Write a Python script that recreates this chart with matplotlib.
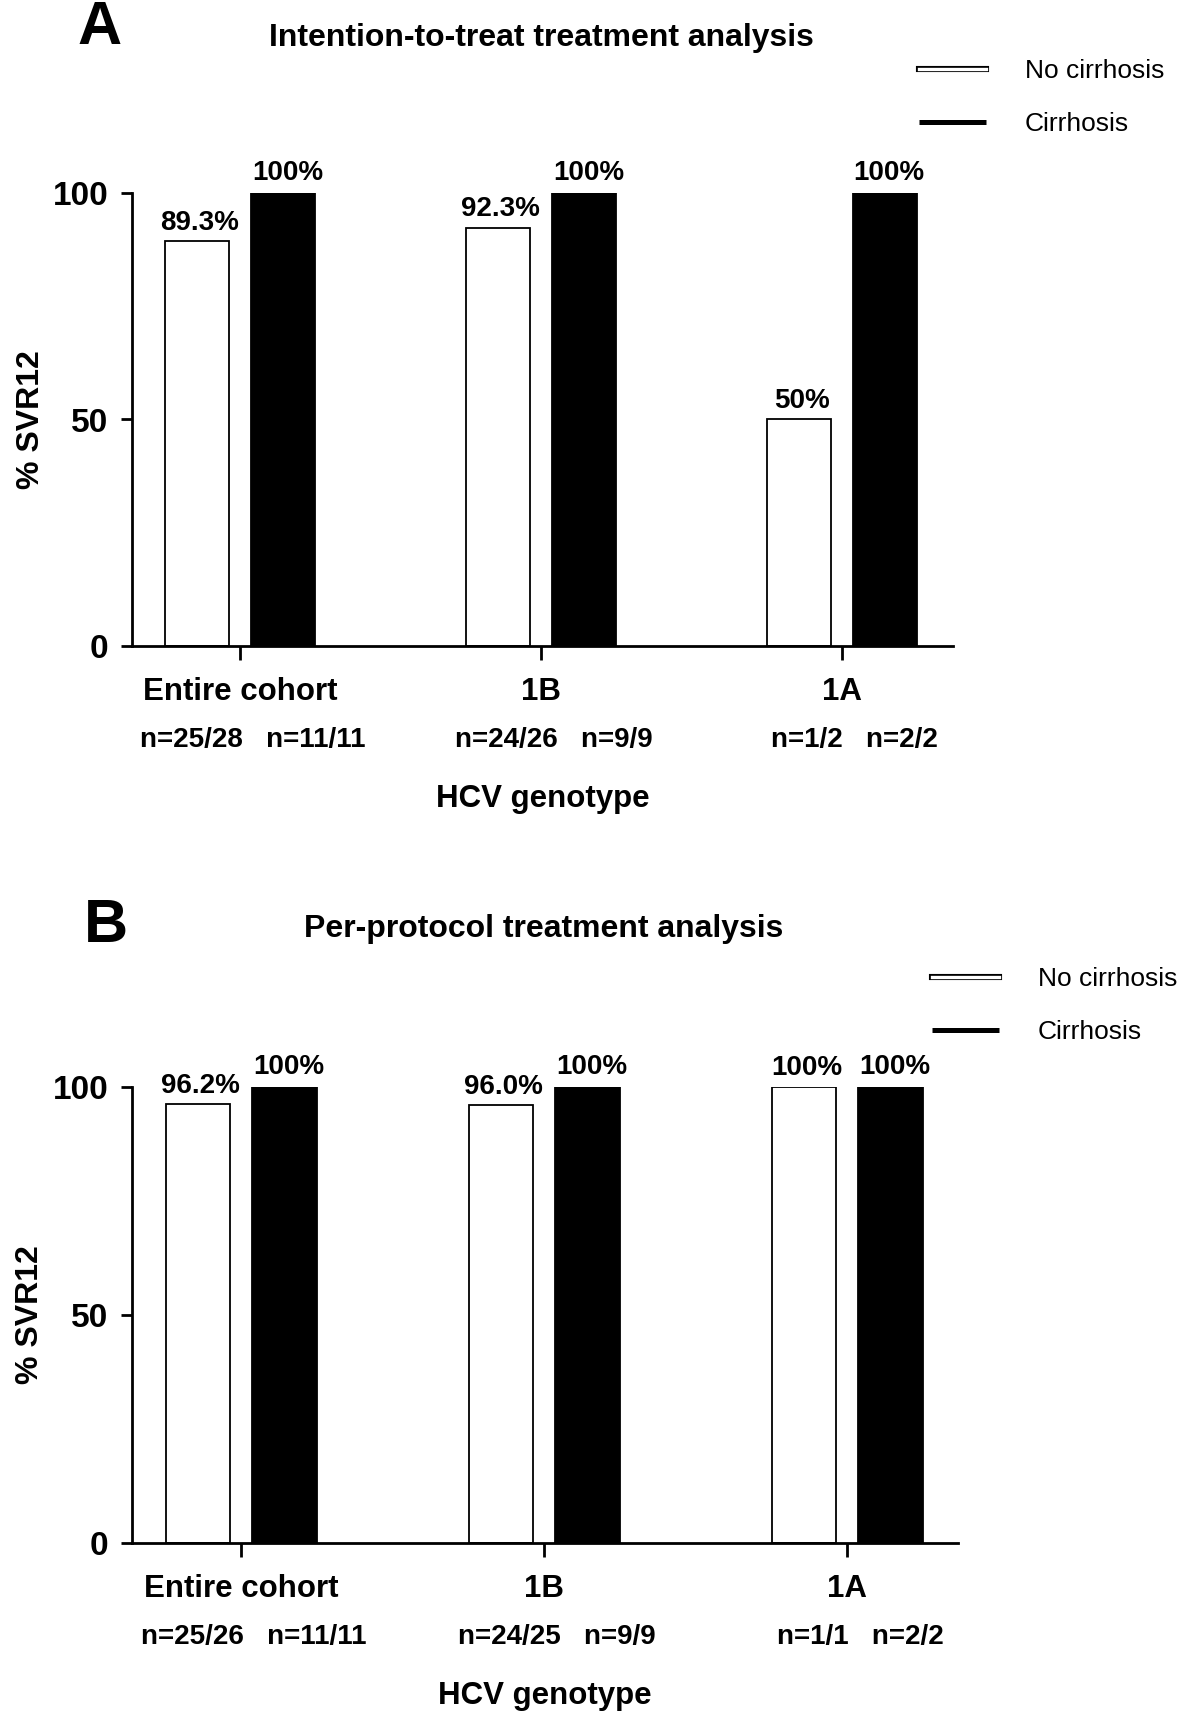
import matplotlib
matplotlib.use('Agg')
import matplotlib.pyplot as plt
import matplotlib.patheffects as pe
import numpy as np
from matplotlib.lines import Line2D

FONT = ['Liberation Sans', 'DejaVu Sans']

groups = ['Entire cohort', '1B', '1A']

# A: intention-to-treat
itt_no_cirr = [89.3, 92.3, 50.0]
itt_cirr = [100, 100, 100]
itt_no_lbl = ['89.3%', '92.3%', '50%']
itt_cirr_lbl = ['100%', '100%', '100%']
itt_n_no = ['n=25/28', 'n=24/26', 'n=1/2']
itt_n_cirr = ['n=11/11', 'n=9/9', 'n=2/2']

# B: per-protocol
pp_no_cirr = [96.2, 96.0, 100]
pp_cirr = [100, 100, 100]
pp_no_lbl = ['96.2%', '96.0%', '100%']
pp_cirr_lbl = ['100%', '100%', '100%']
pp_n_no = ['n=25/26', 'n=24/25', 'n=1/1']
pp_n_cirr = ['n=11/11', 'n=9/9', 'n=2/2']

W, H = 1181, 1713
fig = plt.figure(figsize=(W / 100, H / 100), dpi=100)

bw = 0.212
off = 0.143


def draw_panel(ax, no_vals, cirr_vals, no_lbl, cirr_lbl, n_no, n_cirr, xmax):
    x = np.arange(len(groups))
    ax.bar(x - off, no_vals, bw, color='white', edgecolor='black', linewidth=1.3)
    ax.bar(x + off, cirr_vals, bw, color='black', edgecolor='black', linewidth=1.3)
    for xi, v, s in zip(x - off, no_vals, no_lbl):
        ax.annotate(s, (xi, v), xytext=(2, 4), textcoords='offset points',
                    ha='center', va='bottom', fontsize=20, fontweight='bold',
                    family=FONT, annotation_clip=False)
    for xi, v, s in zip(x + off, cirr_vals, cirr_lbl):
        ax.annotate(s, (xi, v), xytext=(3, 5), textcoords='offset points',
                    ha='center', va='bottom', fontsize=20, fontweight='bold',
                    family=FONT, annotation_clip=False)
    ax.set_xlim(-0.36, xmax)
    ax.set_ylim(0, 100)
    ax.set_yticks([0, 50, 100])
    ax.set_xticks(x)
    ax.set_xticklabels([])
    for sp in ['top', 'right']:
        ax.spines[sp].set_visible(False)
    for sp in ['left', 'bottom']:
        ax.spines[sp].set_linewidth(2.0)
    ax.tick_params(axis='y', length=8, width=2.0, pad=9)
    ax.tick_params(axis='x', length=10, width=2.0)
    for lab in ax.get_yticklabels():
        lab.set_fontsize(24)
        lab.set_fontweight('bold')
        lab.set_family(FONT)
    tr = ax.get_xaxis_transform()
    for xi, g, a, b in zip(x, groups, n_no, n_cirr):
        ax.annotate(g, (xi, 0), xycoords=tr, xytext=(0, -33), textcoords='offset points',
                    ha='center', va='center', fontsize=22.5, fontweight='bold', family=FONT)
        ax.annotate(a + '   ' + b, (xi + 0.043, 0), xycoords=tr, xytext=(0, -68),
                    textcoords='offset points', ha='center', va='center',
                    fontsize=20, fontweight='bold', family=FONT)
    ax.annotate('HCV genotype', (0.5, 0), xycoords='axes fraction', xytext=(0, -110),
                textcoords='offset points', ha='center', va='center',
                fontsize=22.5, fontweight='bold', family=FONT)
    ax.set_ylabel('% SVR12', fontsize=23, fontweight='bold', family=FONT)
    ax.yaxis.set_label_coords(-0.105, 0.5)


axA = fig.add_axes([132 / W, 1 - 646 / H, 821 / W, 453 / H])
draw_panel(axA, itt_no_cirr, itt_cirr, itt_no_lbl, itt_cirr_lbl, itt_n_no, itt_n_cirr, 2.369)

axB = fig.add_axes([132 / W, 1 - 1543 / H, 826 / W, 456 / H])
draw_panel(axB, pp_no_cirr, pp_cirr, pp_no_lbl, pp_cirr_lbl, pp_n_no, pp_n_cirr, 2.366)

# panel letters and titles
fig.text(77 / W, 1 - 44 / H, 'A', fontsize=44, fontweight='bold', family=FONT, va='baseline')
fig.text(84 / W, 1 - 942 / H, 'B', fontsize=44, fontweight='bold', family=FONT, va='baseline')
fig.text(541 / W, 1 - 46 / H, 'Intention-to-treat treatment analysis', fontsize=23,
         fontweight='bold', family=FONT, ha='center', va='baseline')
fig.text(544 / W, 1 - 937 / H, 'Per-protocol treatment analysis', fontsize=23,
         fontweight='bold', family=FONT, ha='center', va='baseline')

# legend: thin open bar and thick black line
open_bar = Line2D([], [], color='white', linewidth=2.4, solid_capstyle='projecting',
                  path_effects=[pe.Stroke(linewidth=4.4, foreground='black', capstyle='projecting'),
                                pe.Normal()])
black_bar = Line2D([], [], color='black', linewidth=3.6, solid_capstyle='butt')
for top, left in [(59, 919), (967, 932)]:
    fig.legend(handles=[open_bar, black_bar], labels=['No cirrhosis', 'Cirrhosis'],
               loc='upper left', bbox_to_anchor=(left / W, 1 - top / H),
               frameon=False, prop={'family': FONT, 'size': 19}, handlelength=2.55,
               handletextpad=1.45, labelspacing=1.1, borderpad=0, borderaxespad=0)

fig.savefig('out.png', dpi=100)
